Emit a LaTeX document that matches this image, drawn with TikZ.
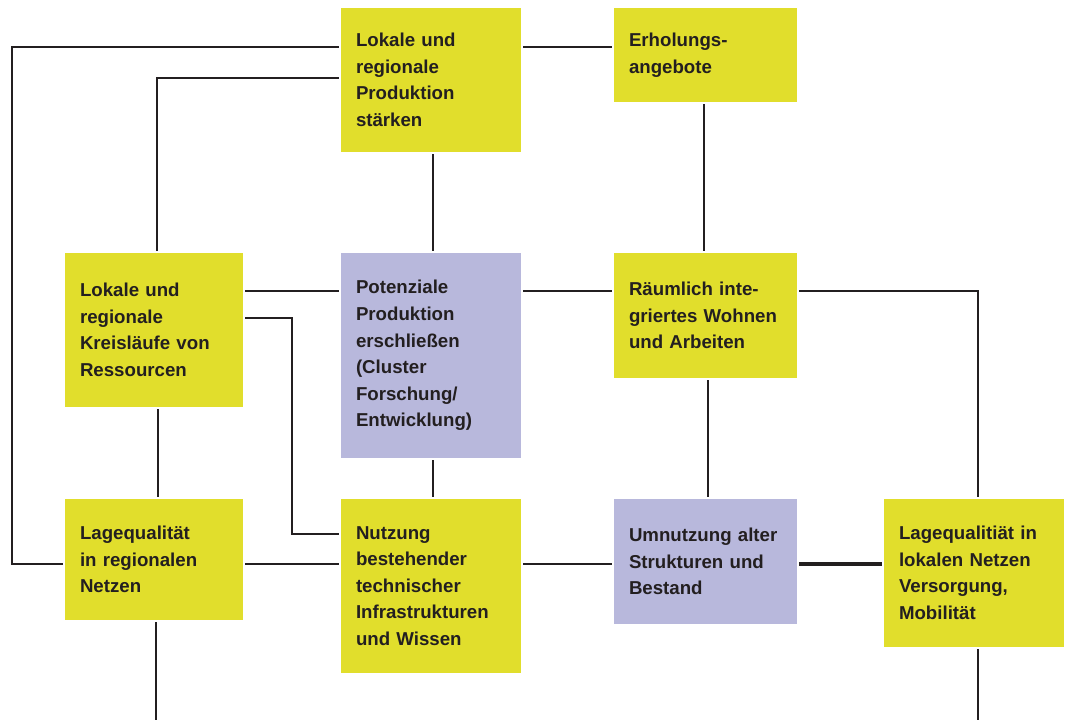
\documentclass[tikz,border=0pt]{standalone}
\usepackage{fontspec}
\setmainfont{Liberation Sans}
\definecolor{gelb}{HTML}{E1DE2C}
\definecolor{lila}{HTML}{B8B8DC}
\definecolor{tinte}{HTML}{231F20}
\tikzset{
  feld/.style={rectangle, fill=gelb, text=tinte, align=left,
    inner xsep=0pt, inner ysep=0pt, text width=135pt,
    execute at begin node={\leftskip=11.25pt},
    font=\fontsize{14}{19.9}\selectfont\bfseries},
  lilafeld/.style={feld, fill=lila},
  linie/.style={draw=tinte, line width=1.5pt, shorten <=1.5pt, shorten >=1.5pt},
  dicklinie/.style={linie, line width=2.6pt},
}

\begin{document}
\begin{tikzpicture}[x=0.75pt, y=-0.75pt]
\useasboundingbox (0,0) rectangle (1067,719);

\node[feld, minimum height=108pt] (produktion) at (431,80)
  {Lokale und\\regionale\\Produktion\\stärken};
\node[feld, text width=137.25pt, minimum height=70.5pt] (erholung) at (705.5,55)
  {Erholungs-\\angebote};
\node[feld, text width=133.5pt, minimum height=115.5pt] (kreislauf) at (154,330)
  {Lokale und\\regionale\\Kreisläufe von\\Ressourcen};
\node[lilafeld, minimum height=153.75pt] (potenziale) at (431,355.5)
  {Potenziale\\Produktion\\erschließen\\(Cluster\\Forschung/\\Entwicklung)};
\node[feld, text width=137.25pt, minimum height=93.75pt] (wohnen) at (705.5,315.5)
  {Räumlich inte-\\griertes Wohnen\\und Arbeiten};
\node[feld, text width=133.5pt, minimum height=90.75pt] (lageregional) at (154,559.5)
  {Lagequalität\\in regionalen\\Netzen};
\node[feld, minimum height=130.5pt] (nutzung) at (431,586)
  {Nutzung\\bestehender\\technischer\\Infrastrukturen\\und Wissen};
\node[lilafeld, text width=137.25pt, minimum height=93.75pt] (umnutzung) at (705.5,561.5)
  {Umnutzung alter\\Strukturen und\\Bestand};
\node[feld, minimum height=111pt] (lagelokal) at (974,573)
  {Lagequalitiät in\\lokalen Netzen\\Versorgung,\\Mobilität};

\draw[linie] (produktion.west |- 0,47) -| (12,564) -- (lageregional.west |- 0,564);
\draw[linie] (produktion.west |- 0,78) -| (kreislauf.north -| 157,0);
\draw[linie] (produktion.east |- 0,47) -- (erholung.west |- 0,47);
\draw[linie] (produktion.south -| 433,0) -- (potenziale.north -| 433,0);
\draw[linie] (erholung.south -| 704,0) -- (wohnen.north -| 704,0);
\draw[linie] (kreislauf.east |- 0,291) -- (potenziale.west |- 0,291);
\draw[linie] (potenziale.east |- 0,291) -- (wohnen.west |- 0,291);
\draw[linie] (kreislauf.east |- 0,318) -| (292,534) -- (nutzung.west |- 0,534);
\draw[linie] (kreislauf.south -| 158,0) -- (lageregional.north -| 158,0);
\draw[linie] (potenziale.south -| 433,0) -- (nutzung.north -| 433,0);
\draw[linie] (wohnen.east |- 0,291) -| (lagelokal.north -| 978,0);
\draw[linie] (wohnen.south -| 708,0) -- (umnutzung.north -| 708,0);
\draw[linie] (lageregional.east |- 0,564) -- (nutzung.west |- 0,564);
\draw[linie] (nutzung.east |- 0,564) -- (umnutzung.west |- 0,564);
\draw[dicklinie] (umnutzung.east |- 0,564) -- (lagelokal.west |- 0,564);
\draw[linie] (lageregional.south -| 156,0) -- (156,722);
\draw[linie] (lagelokal.south -| 978,0) -- (978,722);

\end{tikzpicture}
\end{document}
